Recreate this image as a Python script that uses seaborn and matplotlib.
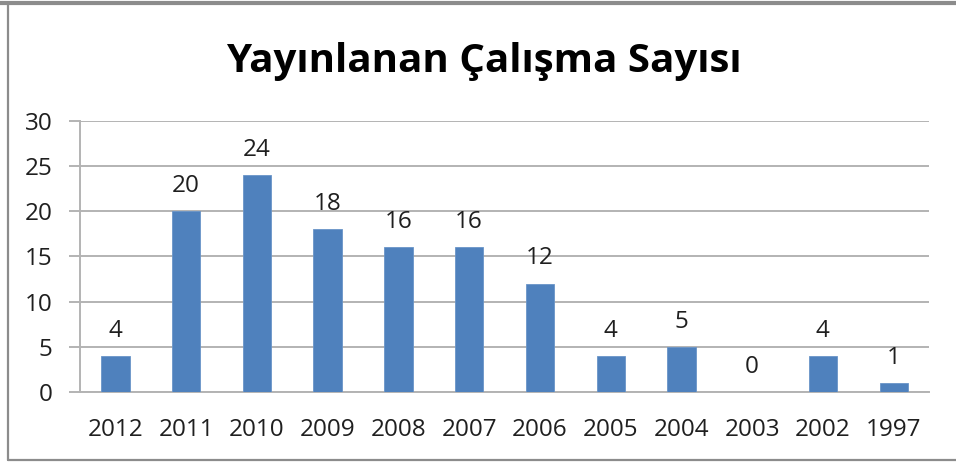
import numpy as np
import pandas as pd
import matplotlib
matplotlib.use("Agg")
import matplotlib.pyplot as plt
import seaborn as sns

# data
years = ["2012", "2011", "2010", "2009", "2008", "2007", "2006",
         "2005", "2004", "2003", "2002", "1997"]
counts = [4, 20, 24, 18, 16, 16, 12, 4, 5, 0, 4, 1]
title = "Yayınlanan Çalışma Sayısı"

sns.set_theme(style="white")
plt.rcParams['font.family'] = ['Open Sans', 'DejaVu Sans']

df = pd.DataFrame({"year": years, "count": counts})

fig = plt.figure(figsize=(9.56, 4.65), dpi=100)
ax = fig.add_axes([0.0837, 0.157, 0.9718 - 0.0837, 0.740 - 0.157])

sns.barplot(data=df, x="year", y="count", order=years, color="#4F81BD",
            width=0.4, saturation=1, edgecolor="#6A95C8", linewidth=0.6,
            ax=ax, zorder=3)

ax.set_ylim(0, 30)
ax.set_xlim(-0.5, len(years) - 0.5)
ax.set_yticks(range(0, 31, 5))
ax.yaxis.grid(True, color="#B3B3B3", linewidth=1.4, zorder=0)
ax.set_axisbelow(True)
ax.set_xlabel("")
ax.set_ylabel("")

for side in ["top", "right"]:
    ax.spines[side].set_visible(False)
for side in ["left", "bottom"]:
    ax.spines[side].set_color("#B3B3B3")
    ax.spines[side].set_linewidth(1.4)

txt_color = "#1F1F1F"

# category-boundary ticks like the spreadsheet chart
ax.set_xticks(np.arange(-0.5, len(years), 1.0), minor=True)
ax.tick_params(axis="x", which="major", length=0, labelsize=17.5,
               labelcolor=txt_color, pad=19)
ax.tick_params(axis="x", which="minor", length=8, width=1.4,
               color="#B3B3B3", direction="out")
ax.tick_params(axis="y", length=8, width=1.4, color="#B3B3B3",
               direction="out", labelsize=17.5, labelcolor=txt_color, pad=12)
ax.tick_params(axis="both", bottom=True, left=True)

for i, v in enumerate(counts):
    ax.annotate(str(v), (i, v), xytext=(0, 9.5), textcoords="offset points",
                ha="center", va="bottom", fontsize=17.5, color=txt_color)

fig.text(0.506, 0.868, title, ha="center", va="center",
         fontsize=29, fontweight="bold", color="black")

# outer frame of the pasted chart
fig.add_artist(plt.Line2D([8 / 956, 8 / 956], [1 - 460 / 465, 1 - 4 / 465],
                          transform=fig.transFigure, color="#8C8C8C", lw=1.6))
fig.add_artist(plt.Line2D([8 / 956, 1.0], [1 - 460 / 465, 1 - 460 / 465],
                          transform=fig.transFigure, color="#8C8C8C", lw=1.6))
fig.add_artist(plt.Line2D([0.0, 1.0], [1 - 3 / 465, 1 - 3 / 465],
                          transform=fig.transFigure, color="#8C8C8C", lw=3))

fig.savefig("out.png", dpi=100)
